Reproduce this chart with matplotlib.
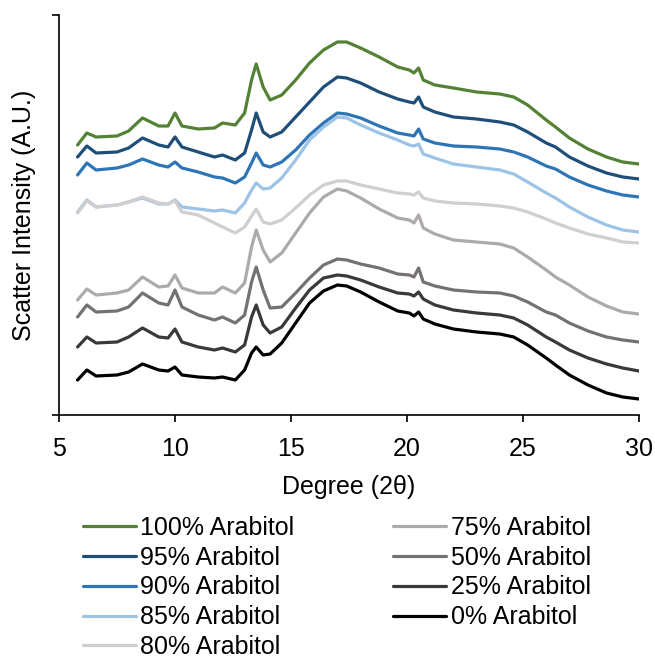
import matplotlib
matplotlib.use("Agg")
import matplotlib.pyplot as plt

plt.rcParams['font.family'] = ['Liberation Sans', 'DejaVu Sans']

# 2-theta positions (degrees)
two_theta = [5.8, 6.2, 6.6, 7.5, 8.0, 8.6, 9.3, 9.7, 10.0, 10.3, 11.0, 11.7, 12.05, 12.6,
             13.0, 13.3, 13.5, 13.8, 14.1, 14.6, 15.2, 15.8, 16.4, 17.0, 17.4, 18.0, 18.8,
             19.6, 20.1, 20.3, 20.5, 20.7, 21.2, 22.0, 23.0, 24.0, 24.6, 25.2, 26.0, 26.4,
             27.0, 27.8, 28.6, 29.3, 30.0]

# Scatter intensity (arbitrary units, stacked)
arab_100 = [270, 282, 278, 279, 284, 297, 289, 289, 302, 289, 286, 287, 292, 290,
            302, 335, 351, 328, 315, 320, 335, 352, 365, 373, 373, 367, 358,
            348, 345, 342, 347, 335, 330, 327, 323, 321, 318, 310, 295, 288,
            277, 266, 258, 253, 251]
arab_95 = [258, 269, 262, 263, 267, 277, 270, 268, 278, 268, 263, 258, 260, 255,
           262, 285, 302, 283, 278, 283, 298, 313, 328, 338, 337, 332, 323,
           316, 313, 312, 318, 308, 303, 298, 296, 293, 290, 283, 272, 268,
           258, 249, 242, 238, 236]
arab_90 = [240, 252, 245, 247, 250, 256, 250, 248, 253, 247, 243, 238, 237, 232,
           238, 252, 262, 250, 248, 253, 265, 280, 292, 302, 301, 297, 289,
           282, 280, 279, 286, 276, 272, 269, 268, 266, 263, 258, 249, 246,
           238, 230, 224, 220, 218]
arab_85 = [203, 215, 208, 210, 213, 217, 211, 211, 215, 208, 206, 204, 205, 202,
           212, 225, 232, 226, 227, 237, 255, 275, 288, 298, 297, 290, 282,
           275, 270, 269, 271, 261, 257, 251, 248, 245, 241, 233, 222, 217,
           208, 198, 190, 185, 183]
arab_80 = [202, 214, 208, 210, 213, 218, 212, 211, 214, 203, 200, 192, 188, 182,
           188, 199, 206, 193, 191, 195, 207, 220, 230, 234, 234, 230, 226,
           222, 221, 220, 223, 217, 214, 212, 211, 209, 207, 203, 196, 192,
           187, 181, 177, 173, 172]
arab_75 = [115, 126, 120, 122, 125, 138, 128, 129, 140, 127, 122, 122, 128, 122,
           132, 168, 185, 165, 153, 162, 182, 202, 218, 226, 224, 217, 206,
           197, 195, 192, 200, 187, 181, 175, 173, 171, 167, 158, 145, 138,
           130, 118, 109, 103, 101]
arab_50 = [98, 110, 103, 104, 108, 122, 112, 110, 125, 108, 100, 95, 98, 92,
           100, 133, 148, 125, 107, 108, 122, 137, 150, 156, 155, 151, 147,
           141, 140, 138, 147, 133, 129, 125, 123, 122, 119, 113, 103, 100,
           92, 84, 78, 75, 73]
arab_25 = [68, 78, 72, 73, 78, 87, 78, 77, 86, 73, 68, 65, 67, 63,
           70, 98, 110, 90, 82, 88, 107, 125, 137, 140, 139, 135, 128,
           122, 121, 119, 123, 116, 110, 105, 102, 100, 97, 90, 78, 73,
           65, 57, 51, 47, 44]
arab_0 = [35, 45, 39, 40, 43, 51, 45, 44, 48, 40, 38, 37, 38, 35,
          45, 62, 68, 60, 61, 72, 92, 112, 124, 130, 129, 123, 113,
          104, 102, 99, 103, 96, 91, 86, 83, 81, 78, 70, 57, 50,
          40, 30, 22, 18, 16]

labels = ["100% Arabitol", "95% Arabitol", "90% Arabitol", "85% Arabitol", "80% Arabitol",
          "75% Arabitol", "50% Arabitol", "25% Arabitol", "0% Arabitol"]
series = [arab_100, arab_95, arab_90, arab_85, arab_80, arab_75, arab_50, arab_25, arab_0]
colors = ["#548235", "#1F4E79", "#2E75B6", "#9DC3E6", "#D0CECE",
          "#AEAAAA", "#767171", "#3B3838", "#000000"]

fig = plt.figure(figsize=(6.55, 6.58), dpi=100)
ax = fig.add_axes([59/655, 1 - 415/658, 580/655, 400/658])

for ys, lab, c in zip(series, labels, colors):
    ax.plot(two_theta, ys, color=c, lw=2.3, label=lab, solid_joinstyle='round',
            solid_capstyle='round')

ax.set_xlim(5, 30)
ax.set_ylim(0, 400)
ax.set_xticks([5, 10, 15, 20, 25, 30])
ax.set_yticks([0, 400])
ax.set_yticklabels([])
for s in ['top', 'right']:
    ax.spines[s].set_visible(False)
for s in ['left', 'bottom']:
    ax.spines[s].set_linewidth(1.2)
    ax.spines[s].set_color('black')
ax.tick_params(axis='x', direction='out', length=5, width=1.2, labelsize=18, pad=11)
ax.tick_params(axis='y', direction='out', length=5, width=1.2)
ax.set_xlabel("Degree (2θ)", fontsize=18, labelpad=10)
ax.set_ylabel("Scatter Intensity (A.U.)", fontsize=18, labelpad=8)

fig.legend(loc='upper left', bbox_to_anchor=(83/655, 1 - 516/658), ncol=2,
           frameon=False, fontsize=18, handlelength=2.1, handletextpad=0.2,
           columnspacing=3.95, labelspacing=0.23, borderpad=0, borderaxespad=0)

fig.savefig("out.png", dpi=100)
